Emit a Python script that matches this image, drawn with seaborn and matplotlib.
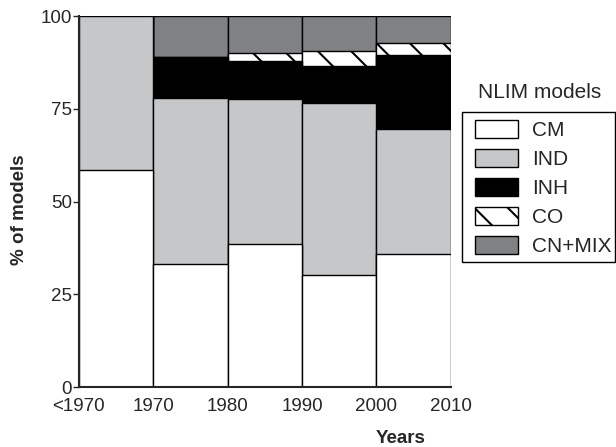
import numpy as np
import pandas as pd
import matplotlib
matplotlib.use("Agg")
import matplotlib.pyplot as plt
from matplotlib.patches import Patch, Rectangle
import seaborn as sns

# ---- data ----
periods = ["pre1970", "1970s", "1980s", "1990s", "2000s"]
tick_labels = ["<1970", "1970", "1980", "1990", "2000", "2010"]
cm = [58.4, 33.2, 38.7, 30.1, 35.8]
ind = [41.6, 44.6, 38.9, 46.5, 33.7]
inh = [0.0, 11.3, 10.4, 10.0, 20.0]
co = [0.0, 0.0, 2.0, 4.0, 3.2]
cnmix = [0.0, 10.9, 10.0, 9.4, 7.3]
series_names = ["CM", "IND", "INH", "CO", "CN+MIX"]

sns.set_style("ticks")
plt.rcParams["font.family"] = ["Liberation Sans", "DejaVu Sans"]
plt.rcParams["hatch.linewidth"] = 1.5

colors = {"CM": "#ffffff", "IND": "#c6c7c9", "INH": "#000000",
          "CO": "#ffffff", "CN+MIX": "#808184"}
hatches = {"CM": None, "IND": None, "INH": None, "CO": "\\", "CN+MIX": None}

values = {"CM": cm, "IND": ind, "INH": inh, "CO": co, "CN+MIX": cnmix}
df = pd.DataFrame({"period": periods})
cum = np.zeros(len(periods))
for name in series_names:
    cum = cum + np.array(values[name])
    df[name + "_cum"] = cum

W, H = 616, 447
fig = plt.figure(figsize=(W / 100, H / 100), dpi=100)
ax = fig.add_axes([0.128, 0.134, 0.604, 0.830])

# draw cumulative totals from the top layer down
for name in reversed(series_names):
    kw = {}
    if hatches[name]:
        kw["hatch"] = hatches[name]
    sns.barplot(data=df, x="period", y=name + "_cum", order=periods,
                color=colors[name], saturation=1, width=1.0,
                edgecolor="black", linewidth=1.0, errorbar=None, ax=ax, **kw)

ax.set_xlim(-0.5, len(periods) - 0.5)
ax.set_ylim(0, 100)
ax.set_xticks(np.arange(len(tick_labels)) - 0.5)
ax.set_xticklabels(tick_labels, fontsize=13.5)
ax.set_yticks([0, 25, 50, 75, 100])
ax.set_yticklabels(["0", "25", "50", "75", "100"], fontsize=13.5)
ax.tick_params(axis="x", length=0, pad=8)
ax.tick_params(axis="y", length=4, width=1, direction="out", pad=1)

for s in ["top", "right"]:
    ax.spines[s].set_visible(False)
for s in ["left", "bottom"]:
    ax.spines[s].set_linewidth(1.5)
    ax.spines[s].set_zorder(5)

ax.set_xlabel("Years", fontsize=13.5, fontweight="bold")
ax.set_ylabel("% of models", fontsize=13.5, fontweight="bold")
ax.xaxis.set_label_coords(0.866, -0.115)
ax.yaxis.set_label_coords(-0.137, 0.477)

handles = [Patch(facecolor=colors[n], edgecolor="black", linewidth=1.0,
                 hatch=hatches[n], label=n) for n in series_names]
leg = fig.legend(handles=handles, loc="upper left",
                 bbox_to_anchor=(475 / W, 1 - 120 / H), fontsize=15, frameon=False,
                 handlelength=2.07, handleheight=0.96, labelspacing=0.42,
                 borderpad=0, handletextpad=0.67, borderaxespad=0)

# legend frame (title sits outside it, above)
x0, x1, y0, y1 = 462, 615, 112, 262
fig.patches.append(Rectangle((x0 / W, 1 - y1 / H), (x1 - x0) / W, (y1 - y0) / H,
                             transform=fig.transFigure, fill=False,
                             edgecolor="black", linewidth=1.0, zorder=0))

fig.text(540 / W, 1 - 93 / H, "NLIM models", fontsize=15, ha="center", va="center")

fig.savefig("out.png", dpi=100)
